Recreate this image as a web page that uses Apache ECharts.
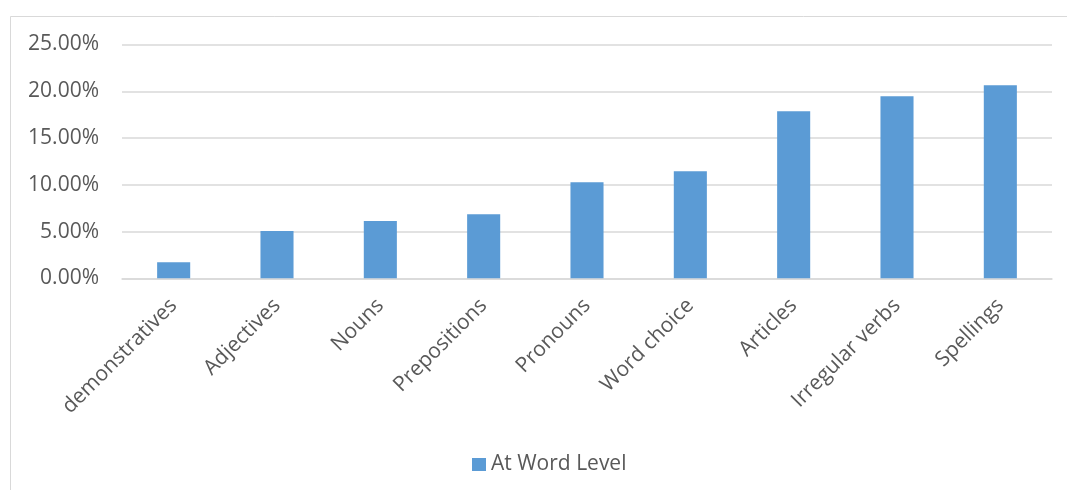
<!DOCTYPE html>
<html>
<head>
<meta charset="utf-8">
<script src="https://cdn.jsdelivr.net/npm/echarts@6/dist/echarts.min.js"></script>
<style>
html,body{margin:0;padding:0;background:#fff;}
#chart{width:1067px;height:490px;}
</style>
</head>
<body>
<div id="chart"></div>
<script>
const categories = ['demonstratives','Adjectives','Nouns','Prepositions','Pronouns','Word choice','Articles','Irregular verbs','Spellings'];
const seriesName = 'At Word Level';
const values = [1.71, 5.06, 6.13, 6.84, 10.27, 11.44, 17.86, 19.46, 20.64];
const yTicks = [0, 5, 10, 15, 20, 25];

const FONT = '"Open Sans", "Liberation Sans", sans-serif';
const chart = echarts.init(document.getElementById('chart'), null, {renderer: 'canvas'});
chart.setOption({
  animation: false,
  backgroundColor: '#ffffff',
  textStyle: {fontFamily: FONT},
  graphic: [{
    type: 'rect',
    shape: {x: 10.5, y: 16.5, width: 1070, height: 490},
    style: {fill: 'none', stroke: '#d9d9d9', lineWidth: 1},
    silent: true, z: -1
  }],
  grid: {left: 122, right: 15, top: 44.5, bottom: 211.7, containLabel: false},
  legend: {
    data: [seriesName],
    left: 467, top: 449,
    itemWidth: 14, itemHeight: 13, itemGap: 10,
    icon: 'rect',
    textStyle: {fontFamily: FONT, fontSize: 21, color: '#595959'}
  },
  xAxis: {
    type: 'category',
    data: categories,
    axisLine: {show: true, lineStyle: {color: '#d9d9d9', width: 1.5}},
    axisTick: {show: false},
    axisLabel: {
      rotate: 45, interval: 0, margin: 24,
      fontFamily: FONT, fontSize: 21, color: '#595959'
    }
  },
  yAxis: {
    type: 'value',
    min: yTicks[0], max: yTicks[yTicks.length - 1], interval: 5,
    axisLine: {show: false},
    axisTick: {show: false},
    splitLine: {lineStyle: {color: '#d9d9d9', width: 1.5}},
    axisLabel: {
      margin: 23, fontFamily: FONT, fontSize: 21, color: '#595959',
      formatter: v => v.toFixed(2) + '%'
    }
  },
  series: [{
    name: seriesName,
    type: 'bar',
    data: values,
    barWidth: '32%',
    itemStyle: {color: '#5b9bd5'}
  }]
});
</script>
</body>
</html>
